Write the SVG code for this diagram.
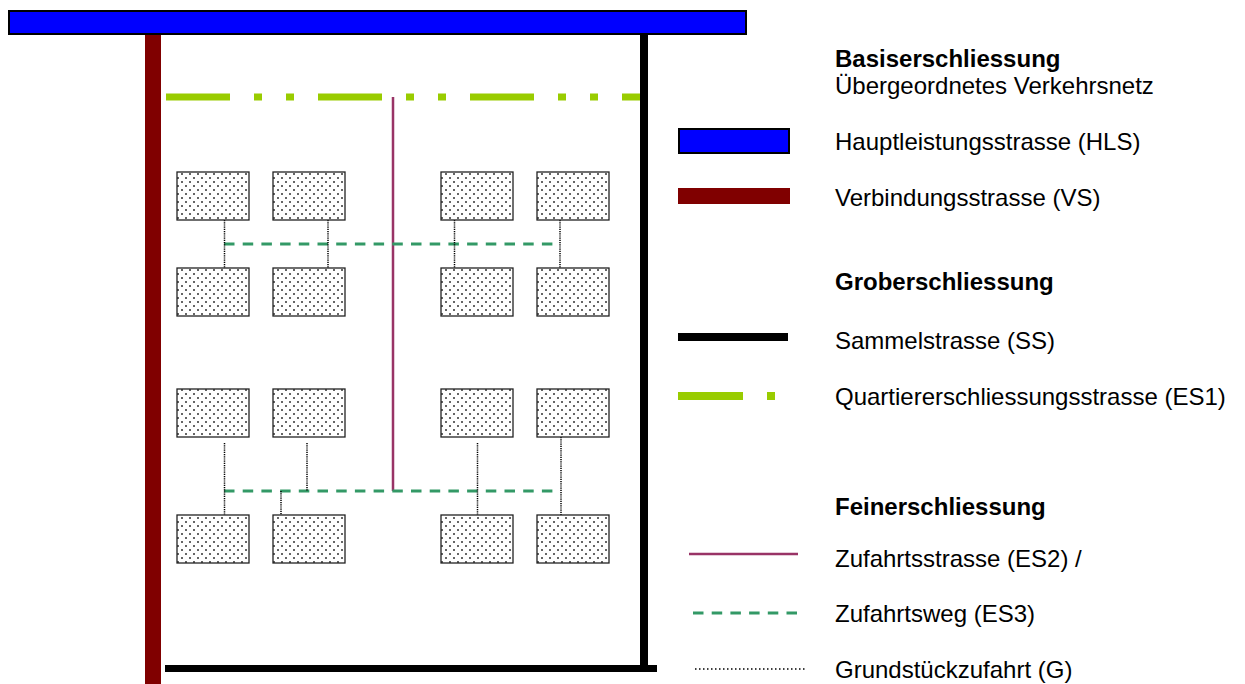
<svg xmlns="http://www.w3.org/2000/svg" width="1245" height="684" viewBox="0 0 1245 684">
  <defs>
    <pattern id="dots" width="8" height="8" patternUnits="userSpaceOnUse">
      <rect width="8" height="8" fill="#ffffff"/>
      <circle cx="2" cy="2" r="1" fill="#333"/>
      <circle cx="6" cy="6" r="1" fill="#333"/>
    </pattern>
    <style>
      .lbl { font-family: "Liberation Sans", Arial, sans-serif; font-size: 24px; fill: #000; }
      .hd { font-weight: bold; }
      .plot { fill: url(#dots); stroke: #222; stroke-width: 1.3; }
      .es1 { stroke: #99cc00; stroke-width: 7; fill: none; stroke-dasharray: 64 24 8 24 8 24; }
      .es2 { stroke: #993366; stroke-width: 2.5; fill: none; }
      .es3 { stroke: #339966; stroke-width: 3; fill: none; stroke-dasharray: 10.5 8.2; }
      .g { stroke: #000; stroke-width: 1.5; fill: none; stroke-dasharray: 1.2 1; }
    </style>
  </defs>
  <rect width="1245" height="684" fill="#ffffff"/>

  <!-- road network -->
  <g id="connectors">
    <!-- Verbindungsstrasse -->
    <rect x="145" y="34" width="16" height="650" fill="#800000"/>
    <!-- Sammelstrasse -->
    <rect x="640" y="34" width="8" height="638" fill="#000"/>
    <rect x="165" y="665" width="492" height="7" fill="#000"/>
    <!-- Quartiererschliessungsstrasse -->
    <line x1="166" y1="97" x2="640" y2="97" class="es1"/>
    <!-- Zufahrtsstrasse -->
    <line x1="393" y1="97" x2="393" y2="491" class="es2"/>
    <!-- Zufahrtswege -->
    <line x1="224" y1="244" x2="553" y2="244" class="es3"/>
    <line x1="224" y1="491" x2="553" y2="491" class="es3"/>
    <!-- Grundstückzufahrten -->
    <line x1="224.5" y1="220" x2="224.5" y2="268" class="g"/>
    <line x1="328" y1="220" x2="328" y2="268" class="g"/>
    <line x1="454.5" y1="220" x2="454.5" y2="268" class="g"/>
    <line x1="560" y1="220" x2="560" y2="268" class="g"/>
    <line x1="224.5" y1="443" x2="224.5" y2="515" class="g"/>
    <line x1="307" y1="443" x2="307" y2="491" class="g"/>
    <line x1="281" y1="491" x2="281" y2="515" class="g"/>
    <line x1="477.5" y1="443" x2="477.5" y2="515" class="g"/>
    <line x1="561" y1="437" x2="561" y2="515" class="g"/>
  </g>

  <!-- Hauptleistungsstrasse -->
  <g id="hls">
    <rect x="9" y="11" width="737" height="23" fill="#0000ff" stroke="#000" stroke-width="2"/>
  </g>

  <!-- building plots -->
  <g id="plot-r1c1"><rect class="plot" x="177" y="172" width="72" height="48"/></g>
  <g id="plot-r1c2"><rect class="plot" x="273" y="172" width="72" height="48"/></g>
  <g id="plot-r1c3"><rect class="plot" x="441" y="172" width="72" height="48"/></g>
  <g id="plot-r1c4"><rect class="plot" x="537" y="172" width="72" height="48"/></g>
  <g id="plot-r2c1"><rect class="plot" x="177" y="268" width="72" height="48"/></g>
  <g id="plot-r2c2"><rect class="plot" x="273" y="268" width="72" height="48"/></g>
  <g id="plot-r2c3"><rect class="plot" x="441" y="268" width="72" height="48"/></g>
  <g id="plot-r2c4"><rect class="plot" x="537" y="268" width="72" height="48"/></g>
  <g id="plot-r3c1"><rect class="plot" x="177" y="389" width="72" height="48"/></g>
  <g id="plot-r3c2"><rect class="plot" x="273" y="389" width="72" height="48"/></g>
  <g id="plot-r3c3"><rect class="plot" x="441" y="389" width="72" height="48"/></g>
  <g id="plot-r3c4"><rect class="plot" x="537" y="389" width="72" height="48"/></g>
  <g id="plot-r4c1"><rect class="plot" x="177" y="515" width="72" height="48"/></g>
  <g id="plot-r4c2"><rect class="plot" x="273" y="515" width="72" height="48"/></g>
  <g id="plot-r4c3"><rect class="plot" x="441" y="515" width="72" height="48"/></g>
  <g id="plot-r4c4"><rect class="plot" x="537" y="515" width="72" height="48"/></g>

  <!-- legend -->
  <g id="legend">
    <text class="lbl hd" x="835" y="67">Basiserschliessung</text>
    <text class="lbl" x="835" y="94">Übergeordnetes Verkehrsnetz</text>

    <rect x="679" y="129" width="110" height="24" fill="#0000ff" stroke="#000" stroke-width="2"/>
    <text class="lbl" x="835" y="150">Hauptleistungsstrasse (HLS)</text>

    <rect x="678" y="188" width="112" height="16" fill="#800000"/>
    <text class="lbl" x="835" y="206">Verbindungsstrasse (VS)</text>

    <text class="lbl hd" x="835" y="290">Groberschliessung</text>

    <rect x="678" y="333" width="110" height="8" fill="#000"/>
    <text class="lbl" x="835" y="349">Sammelstrasse (SS)</text>

    <rect x="678" y="392" width="65" height="8" fill="#99cc00"/>
    <rect x="767" y="392" width="8" height="8" fill="#99cc00"/>
    <text class="lbl" x="835" y="405">Quartiererschliessungsstrasse (ES1)</text>

    <text class="lbl hd" x="835" y="515">Feinerschliessung</text>

    <line x1="689" y1="554" x2="798" y2="554" class="es2"/>
    <text class="lbl" x="835" y="567">Zufahrtsstrasse (ES2) /</text>

    <line x1="693" y1="613" x2="798" y2="613" class="es3"/>
    <text class="lbl" x="835" y="622">Zufahrtsweg (ES3)</text>

    <line x1="695" y1="669" x2="805" y2="669" stroke="#000" stroke-width="1.5" stroke-dasharray="1.5 2.5"/>
    <text class="lbl" x="835" y="678">Grundstückzufahrt (G)</text>
  </g>
</svg>
